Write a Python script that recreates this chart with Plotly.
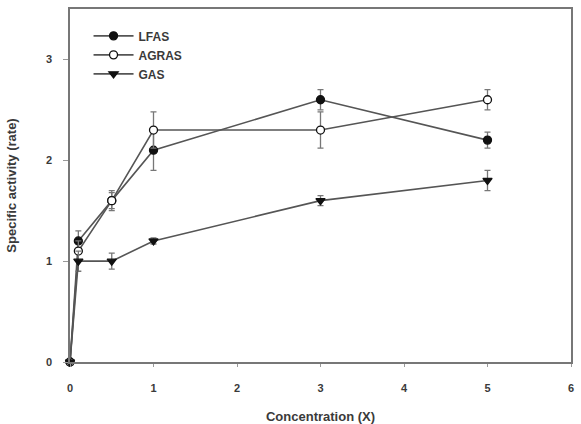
import plotly.graph_objects as go

conc = [0, 0.1, 0.5, 1, 3, 5]
lfas = [0, 1.2, 1.6, 2.1, 2.6, 2.2]
lfas_err = [0, 0.1, 0.08, 0.2, 0.1, 0.08]
agras = [0, 1.1, 1.6, 2.3, 2.3, 2.6]
agras_err = [0, 0.1, 0.1, 0.18, 0.18, 0.1]
gas = [0, 1.0, 1.0, 1.2, 1.6, 1.8]
gas_err = [0, 0.1, 0.08, 0.03, 0.05, 0.1]

x_ticks = [0, 1, 2, 3, 4, 5, 6]
y_ticks = [0, 1, 2, 3]

line_col = "#555555"
fig = go.Figure()

def add(name, y, err, symbol, fill):
    fig.add_trace(go.Scatter(
        x=conc, y=y, name=name, mode="lines+markers", cliponaxis=False,
        line=dict(color=line_col, width=1.6),
        marker=dict(symbol=symbol, size=8, color=fill,
                    line=dict(color="#111111", width=1.3)),
        error_y=dict(type="data", array=err, color="#777777",
                     thickness=1.3, width=3),
    ))

add("LFAS", lfas, lfas_err, "circle", "#111111")
add("AGRAS", agras, agras_err, "circle", "white")
add("GAS", gas, gas_err, "triangle-down", "#111111")

txt = "#3a3a3a"
axis_font = dict(family="Liberation Sans, Arial", size=11, color=txt, weight="bold")
fig.update_layout(
    width=581, height=424,
    margin=dict(l=70, r=10, t=9, b=62),
    paper_bgcolor="white", plot_bgcolor="white",
    showlegend=True,
    legend=dict(x=0.037, y=0.965, xanchor="left", yanchor="top",
                bgcolor="rgba(0,0,0,0)", tracegroupgap=0,
                font=dict(family="Liberation Sans, Arial", size=12, color=txt, weight="bold"),
                itemwidth=40),
    font=axis_font,
)
fig.update_xaxes(range=[0, 6], tickvals=x_ticks, ticktext=[str(v) for v in x_ticks],
                 showgrid=False, zeroline=False, showline=True, linecolor="#777777",
                 linewidth=1.5, mirror=True, ticks="outside", ticklen=3,
                 tickcolor="#999999", ticklabelstandoff=12, automargin=False,
                 title=dict(text="Concentration (X)",
                            font=dict(size=13, color=txt, weight="bold"),
                            standoff=26))
fig.update_yaxes(range=[0, 3.5], tickvals=y_ticks, ticktext=[str(v) for v in y_ticks],
                 showgrid=False, zeroline=False, showline=True, linecolor="#777777",
                 linewidth=1.5, mirror=True, ticks="outside", ticklen=5,
                 tickcolor="#999999", ticklabelstandoff=9, automargin=False,
                 title=dict(text="Specific activity (rate)",
                            font=dict(size=13, color=txt, weight="bold"),
                            standoff=26))

fig.write_html("out.html")
